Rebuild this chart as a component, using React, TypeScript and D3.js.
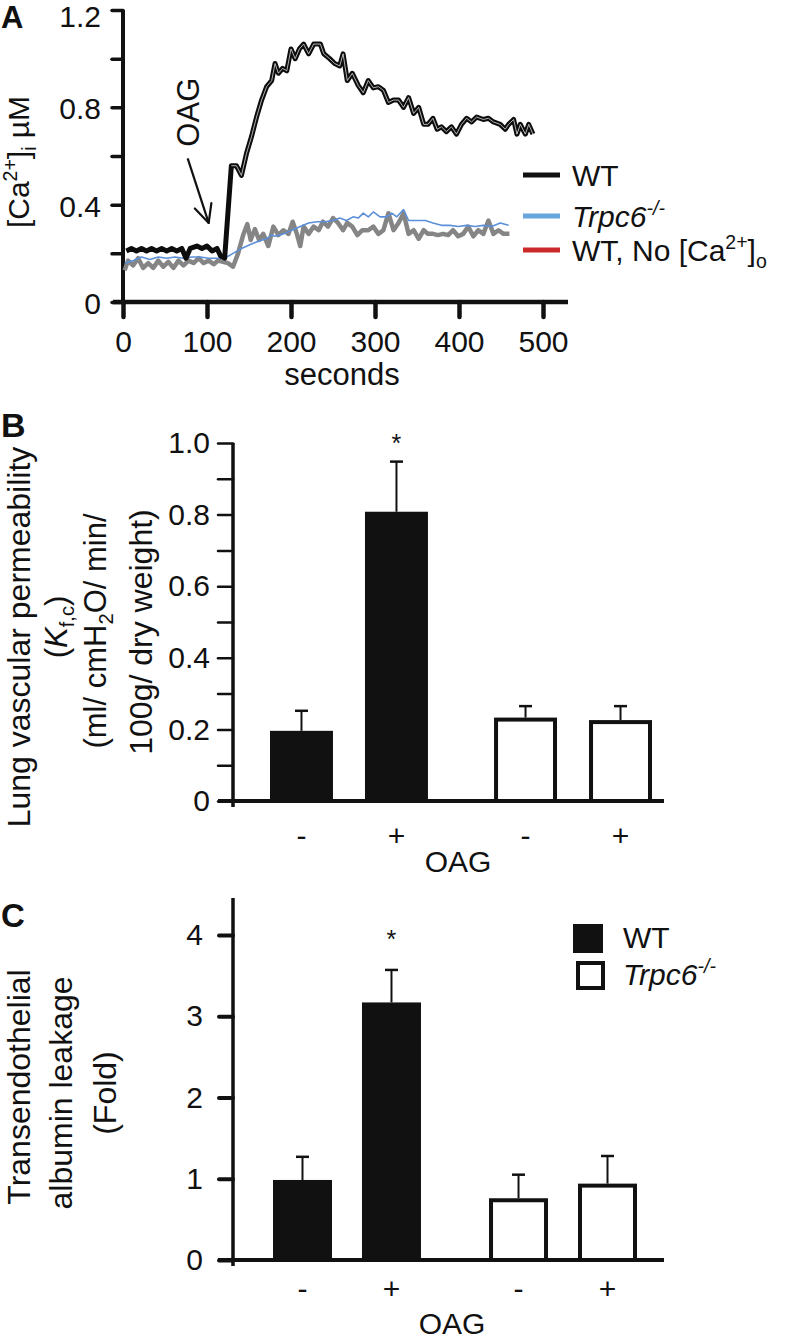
import React, { useEffect, useRef } from "react";
import * as d3 from "d3";

const FONT = "'Liberation Sans', Arial, Helvetica, sans-serif";

// ---- Panel A: [Ca2+]i traces as [seconds, µM]
const wtTrace = [
  [4, 0.21], [10, 0.22], [16, 0.21], [22, 0.22], [28, 0.21], [34, 0.22], [40, 0.21], [46, 0.22],
  [52, 0.21], [58, 0.22], [64, 0.21], [70, 0.22], [75, 0.18], [80, 0.22], [88, 0.23], [94, 0.22],
  [100, 0.23], [106, 0.21], [112, 0.22], [116, 0.19], [121, 0.18], [129, 0.56], [135, 0.56],
  [141, 0.52], [147, 0.61], [153, 0.68], [159, 0.76], [165, 0.83], [171, 0.885], [177, 0.91],
  [181, 0.98], [185, 0.94], [190, 0.96], [195, 0.95], [200, 1.04], [205, 1.0], [210, 1.04],
  [215, 1.06], [221, 1.02], [227, 1.06], [235, 1.06], [239, 1.02], [246, 1.0], [252, 0.98],
  [258, 0.97], [262, 1.02], [267, 0.91], [273, 0.94], [280, 0.89], [286, 0.86], [292, 0.91],
  [298, 0.88], [304, 0.885], [310, 0.87], [316, 0.82], [322, 0.83], [328, 0.83], [334, 0.8],
  [340, 0.84], [346, 0.775], [352, 0.8], [358, 0.73], [363, 0.73], [369, 0.755], [374, 0.71],
  [379, 0.72], [385, 0.7], [391, 0.72], [397, 0.69], [403, 0.73], [409, 0.755], [415, 0.74],
  [421, 0.76], [429, 0.75], [435, 0.755], [441, 0.74], [449, 0.73], [455, 0.71], [459, 0.73],
  [465, 0.75], [469, 0.69], [473, 0.73], [479, 0.69], [483, 0.73], [488, 0.69],
];

const grayTrace = [
  [2, 0.13], [6, 0.17], [12, 0.15], [18, 0.18], [24, 0.14], [30, 0.16], [36, 0.14], [42, 0.17],
  [48, 0.145], [54, 0.165], [60, 0.14], [66, 0.17], [72, 0.15], [78, 0.17], [84, 0.16], [90, 0.18],
  [96, 0.16], [102, 0.17], [108, 0.155], [113, 0.17], [119, 0.165], [125, 0.16], [131, 0.145],
  [137, 0.2], [143, 0.275], [148, 0.32], [152, 0.255], [157, 0.3], [162, 0.255], [167, 0.28],
  [173, 0.23], [179, 0.31], [185, 0.275], [191, 0.295], [197, 0.28], [202, 0.33], [207, 0.28],
  [211, 0.23], [215, 0.31], [221, 0.28], [227, 0.31], [233, 0.295], [238, 0.33], [244, 0.31],
  [250, 0.345], [256, 0.325], [262, 0.295], [267, 0.325], [273, 0.31], [279, 0.275], [285, 0.295],
  [292, 0.295], [298, 0.31], [304, 0.28], [310, 0.295], [316, 0.365], [322, 0.295], [328, 0.325],
  [334, 0.365], [340, 0.28], [346, 0.295], [352, 0.26], [358, 0.295], [363, 0.28], [369, 0.28],
  [375, 0.275], [381, 0.28], [387, 0.275], [393, 0.295], [399, 0.27], [405, 0.28], [411, 0.31],
  [417, 0.27], [423, 0.295], [429, 0.28], [435, 0.335], [441, 0.28], [447, 0.295], [453, 0.28],
  [460, 0.28],
];

const trpc6Trace = [
  [2, 0.16], [12, 0.17], [22, 0.185], [32, 0.175], [42, 0.185], [52, 0.18], [62, 0.185],
  [72, 0.18], [82, 0.185], [92, 0.185], [102, 0.18], [112, 0.18], [121, 0.18], [131, 0.2],
  [141, 0.22], [151, 0.235], [161, 0.25], [171, 0.26], [177, 0.275], [181, 0.27], [191, 0.28],
  [201, 0.295], [211, 0.31], [221, 0.325], [231, 0.33], [240, 0.33], [250, 0.335], [258, 0.345],
  [266, 0.335], [274, 0.35], [280, 0.345], [286, 0.365], [292, 0.35], [298, 0.37], [306, 0.35],
  [314, 0.35], [320, 0.365], [326, 0.35], [334, 0.38], [340, 0.335], [350, 0.335], [360, 0.335],
  [369, 0.325], [379, 0.315], [389, 0.315], [399, 0.31], [409, 0.315], [419, 0.31], [429, 0.315],
  [439, 0.31], [449, 0.325], [459, 0.315],
];

const timeTicks = [0, 100, 200, 300, 400, 500];
const caTicks = [0, 0.2, 0.4, 0.6, 0.8, 1.0, 1.2];
const caLabelled = [0, 0.4, 0.8, 1.2];

// OAG arrow (seconds, µM)
const oagArrowFrom = [77, 0.59];
const oagArrowTo = [102, 0.325];
const oagTextAt = [77, 0.78];

// ---- Panel B: lung vascular permeability (Kf,c)
const genotypes = ["WT", "Trpc6"];
const oagLevels = ["-", "+"];
const kfcMean = [0.196, 0.808, 0.233, 0.226];
const kfcSem = [0.056, 0.14, 0.032, 0.039];
const kfcTicks = [0, 0.1, 0.2, 0.3, 0.4, 0.5, 0.6, 0.7, 0.8, 0.9, 1.0];

// ---- Panel C: transendothelial albumin leakage (fold)
const leakMean = [0.985, 3.17, 0.76, 0.94];
const leakSem = [0.285, 0.4, 0.29, 0.34];
const leakTicks = [0, 1, 2, 3, 4];

type Part = { t: string; sup?: boolean; sub?: boolean; italic?: boolean };

function rich(sel: any, parts: Part[], size: number) {
  let shift = 0;
  parts.forEach((p) => {
    const ts = sel.append("tspan").text(p.t);
    let target = 0;
    if (p.sup) target = -size * 0.4;
    if (p.sub) target = size * 0.22;
    if (target - shift !== 0) ts.attr("dy", target - shift);
    shift = target;
    if (p.sup || p.sub) ts.attr("font-size", size * 0.65);
    if (p.italic) ts.attr("font-style", "italic");
  });
}

const App = () => {
  const svgRef = useRef<SVGSVGElement>(null);

  useEffect(() => {
    const width = 788;
    const height = 1339;
    const svg = d3.select(svgRef.current);
    svg.selectAll("*").remove();
    svg.attr("width", width).attr("height", height).style("font-family", FONT);

    // ================= Panel A =================
    const xA = d3.scaleLinear().domain([0, 500]).range([123, 543]);
    const yA = d3.scaleLinear().domain([0, 1.2]).range([302, 10]);

    const gA = svg.append("g");

    // axes lines
    gA.append("line").attr("x1", 113).attr("x2", 568).attr("y1", yA(0)).attr("y2", yA(0))
      .attr("stroke", "#111").attr("stroke-width", 4.5);
    gA.append("line").attr("x1", xA(0)).attr("x2", xA(0)).attr("y1", yA(1.2)).attr("y2", yA(0))
      .attr("stroke", "#111").attr("stroke-width", 4);

    const yAxisA = gA.append("g").attr("transform", `translate(${xA(0)},0)`)
      .call(d3.axisLeft(yA).tickValues(caTicks).tickSize(11).tickSizeOuter(0).tickPadding(11)
        .tickFormat((d: any) => (caLabelled.some((v) => Math.abs(v - d) < 1e-9) ? (d === 0 ? "0" : d3.format(".1f")(d)) : "")));
    yAxisA.select(".domain").remove();
    yAxisA.selectAll("line").attr("stroke", "#111").attr("stroke-width", 3.5).attr("stroke-linecap", "round");
    yAxisA.selectAll("text").attr("font-size", 30).attr("fill", "#111").attr("font-family", FONT)
      .attr("dy", (d: any) => (d === 1.2 ? "0.55em" : "0.38em"));

    const xAxisA = gA.append("g").attr("transform", `translate(0,${yA(0)})`)
      .call(d3.axisBottom(xA).tickValues(timeTicks).tickSize(15).tickSizeOuter(0).tickPadding(14));
    xAxisA.select(".domain").remove();
    xAxisA.selectAll("line").attr("stroke", "#111").attr("stroke-width", 4.5).attr("stroke-linecap", "round");
    xAxisA.selectAll("text").attr("font-size", 30).attr("fill", "#111").attr("font-family", FONT);

    gA.append("text").attr("x", 342).attr("y", 385).attr("text-anchor", "middle")
      .attr("font-size", 31).attr("fill", "#111").text("seconds");

    const yLabA = gA.append("text").attr("transform", "translate(29,162) rotate(-90)")
      .attr("text-anchor", "middle").attr("font-size", 30).attr("fill", "#111");
    rich(yLabA, [{ t: "[Ca" }, { t: "2+", sup: true }, { t: "]" }, { t: "i", sub: true }, { t: " µM" }], 30);

    const line = d3.line<number[]>().x((d) => xA(d[0])).y((d) => yA(d[1]));

    gA.append("path").datum(grayTrace).attr("d", line).attr("fill", "none")
      .attr("stroke", "#858585").attr("stroke-width", 4.5).attr("stroke-linejoin", "round");
    gA.append("path").datum(trpc6Trace).attr("d", line).attr("fill", "none")
      .attr("stroke", "#5b8fd9").attr("stroke-width", 1.6).attr("stroke-linejoin", "round");
    gA.append("path").datum(wtTrace).attr("d", line).attr("fill", "none")
      .attr("stroke", "#0d0d0d").attr("stroke-width", 5).attr("stroke-linejoin", "round");
    gA.append("path").datum(wtTrace.filter((d) => d[0] >= 129)).attr("d", line).attr("fill", "none")
      .attr("stroke", "#fff").attr("stroke-width", 0.8).attr("stroke-opacity", 0.85).attr("stroke-linejoin", "round");

    // OAG annotation
    const ax1 = xA(oagArrowFrom[0]), ay1 = yA(oagArrowFrom[1]);
    const ax2 = xA(oagArrowTo[0]), ay2 = yA(oagArrowTo[1]);
    gA.append("line").attr("x1", ax1).attr("y1", ay1).attr("x2", ax2).attr("y2", ay2)
      .attr("stroke", "#111").attr("stroke-width", 2.2);
    const ang = Math.atan2(ay2 - ay1, ax2 - ax1);
    [0.45, -0.45].forEach((da) => {
      gA.append("line").attr("x1", ax2).attr("y1", ay2)
        .attr("x2", ax2 - 20 * Math.cos(ang + da)).attr("y2", ay2 - 20 * Math.sin(ang + da))
        .attr("stroke", "#111").attr("stroke-width", 2.2).attr("stroke-linecap", "round");
    });
    gA.append("text").attr("transform", `translate(${xA(oagTextAt[0]) + 11},${yA(oagTextAt[1])}) rotate(-90)`)
      .attr("text-anchor", "middle").attr("font-size", 31).attr("fill", "#111").text("OAG");

    // legend A
    const legA = [
      { color: "#111", y: 175, parts: [{ t: "WT" }] as Part[] },
      { color: "#66a6dd", y: 216, parts: [{ t: "Trpc6", italic: true }, { t: "-/-", sup: true, italic: true }] as Part[] },
      { color: "#cc2a2a", y: 250, parts: [{ t: "WT, No [Ca" }, { t: "2+", sup: true }, { t: "]" }, { t: "o", sub: true }] as Part[] },
    ];
    legA.forEach((l) => {
      gA.append("line").attr("x1", 523).attr("x2", 560).attr("y1", l.y).attr("y2", l.y)
        .attr("stroke", l.color).attr("stroke-width", 5);
      const t = gA.append("text").attr("x", 572).attr("y", l.y + 11).attr("font-size", 30).attr("fill", "#111");
      rich(t, l.parts, 30);
    });

    gA.append("text").attr("x", 1).attr("y", 28).attr("font-size", 31).attr("font-weight", "bold")
      .attr("fill", "#111").text("A");

    // ================= Bar panels =================
    const drawBars = (opts: any) => {
      const { g, y, means, sems, range, outerPad, innerPad, base, axisTop, ticks, tickFmt,
        tickSize, tickPad, tickWidth, starY, labelY, oagY, xAxisEnd } = opts;
      const outer = d3.scaleBand().domain(genotypes).range(range).paddingInner(outerPad).paddingOuter(0);
      const inner = d3.scaleBand().domain(oagLevels).range([0, outer.bandwidth()]).paddingInner(innerPad).paddingOuter(0);
      const rows = genotypes.flatMap((gt, gi) =>
        oagLevels.map((o, oi) => ({ gt, o, mean: means[gi * 2 + oi], sem: sems[gi * 2 + oi] })));

      // y axis
      g.append("line").attr("x1", 233).attr("x2", 233).attr("y1", axisTop).attr("y2", base + 6)
        .attr("stroke", "#111").attr("stroke-width", 3.5);
      const ax = g.append("g").attr("transform", "translate(233,0)")
        .call(d3.axisLeft(y).tickValues(ticks).tickSize(tickSize).tickSizeOuter(0).tickPadding(tickPad).tickFormat(tickFmt));
      ax.select(".domain").remove();
      ax.selectAll("line").attr("stroke", "#111").attr("stroke-width", tickWidth).attr("stroke-linecap", "round");
      ax.selectAll("text").attr("font-size", 30).attr("fill", "#111").attr("font-family", FONT);

      // bars
      rows.forEach((r) => {
        const x0 = (outer(r.gt) as number) + (inner(r.o) as number);
        const bw = inner.bandwidth();
        const cx = x0 + bw / 2;
        const top = y(r.mean);
        const errTop = y(r.mean + r.sem);
        g.append("line").attr("x1", cx).attr("x2", cx).attr("y1", top).attr("y2", errTop)
          .attr("stroke", "#111").attr("stroke-width", 2);
        g.append("line").attr("x1", cx - 6.5).attr("x2", cx + 6.5).attr("y1", errTop).attr("y2", errTop)
          .attr("stroke", "#111").attr("stroke-width", 2.5);
        if (r.gt === "WT") {
          g.append("rect").attr("x", x0).attr("y", top).attr("width", bw).attr("height", base - top)
            .attr("fill", "#111");
        } else {
          g.append("rect").attr("x", x0 + 2).attr("y", top + 2).attr("width", bw - 4).attr("height", base - top - 2)
            .attr("fill", "#fff").attr("stroke", "#111").attr("stroke-width", 4);
        }
        g.append("text").attr("x", cx).attr("y", labelY).attr("text-anchor", "middle")
          .attr("font-size", 30).attr("fill", "#111").text(r.o);
        if (r.gt === "WT" && r.o === "+") {
          g.append("text").attr("x", cx).attr("y", starY).attr("text-anchor", "middle")
            .attr("font-size", 25).attr("fill", "#111").text("*");
        }
      });

      // x axis
      g.append("line").attr("x1", 218).attr("x2", xAxisEnd).attr("y1", base).attr("y2", base)
        .attr("stroke", "#111").attr("stroke-width", 4);

      g.append("text").attr("x", (range[0] + range[1]) / 2 - 3).attr("y", oagY).attr("text-anchor", "middle")
        .attr("font-size", 30).attr("fill", "#111").text("OAG");
    };

    // ---- Panel B
    const gB = svg.append("g");
    const yB = d3.scaleLinear().domain([0, 1]).range([801, 443]);
    drawBars({
      g: gB, y: yB, means: kfcMean, sems: kfcSem, range: [270, 652], outerPad: 0.295, innerPad: 0.337,
      base: 801, axisTop: 443, ticks: kfcTicks,
      tickFmt: (d: number) => (Math.round(d * 10) % 2 === 0 ? (d === 0 ? "0" : d3.format(".1f")(d)) : ""),
      tickSize: 15, tickPad: 8, tickWidth: 2.5, starY: 452, labelY: 846, oagY: 872, xAxisEnd: 664,
    });

    const yLabB = gB.append("g").attr("fill", "#111");
    yLabB.append("text").attr("transform", "translate(30,637) rotate(-90)").attr("text-anchor", "middle")
      .attr("font-size", 32).text("Lung vascular permeability");
    const l2 = yLabB.append("text").attr("transform", "translate(67,627) rotate(-90)").attr("text-anchor", "middle")
      .attr("font-size", 31);
    rich(l2, [{ t: "(" }, { t: "K", italic: true }, { t: "f,c", sub: true }, { t: ")" }], 31);
    const l3 = yLabB.append("text").attr("transform", "translate(106,631) rotate(-90)").attr("text-anchor", "middle")
      .attr("font-size", 31);
    rich(l3, [{ t: "(ml/ cmH" }, { t: "2", sub: true }, { t: "O/ min/" }], 31);
    yLabB.append("text").attr("transform", "translate(152,632) rotate(-90)").attr("text-anchor", "middle")
      .attr("font-size", 32).text("100g/ dry weight)");

    gB.append("text").attr("x", 1).attr("y", 437).attr("font-size", 34).attr("font-weight", "bold")
      .attr("fill", "#111").text("B");

    // ---- Panel C
    const gC = svg.append("g");
    const yC = d3.scaleLinear().domain([0, 4]).range([1260, 935]);
    drawBars({
      g: gC, y: yC, means: leakMean, sems: leakSem, range: [273, 637], outerPad: 0.315, innerPad: 0.337,
      base: 1260, axisTop: 898, ticks: leakTicks, tickFmt: (d: number) => String(d),
      tickSize: 14, tickPad: 16, tickWidth: 4, starY: 948, labelY: 1299, oagY: 1334, xAxisEnd: 664,
    });

    const yLabC = gC.append("g").attr("fill", "#111").attr("font-size", 32).attr("text-anchor", "middle");
    yLabC.append("text").attr("transform", "translate(30,1087) rotate(-90)").text("Transendothelial");
    yLabC.append("text").attr("transform", "translate(72,1093) rotate(-90)").text("albumin leakage");
    yLabC.append("text").attr("transform", "translate(116,1093) rotate(-90)").text("(Fold)");

    gC.append("text").attr("x", 1).attr("y", 927).attr("font-size", 33).attr("font-weight", "bold")
      .attr("fill", "#111").text("C");

    // legend C
    gC.append("rect").attr("x", 573).attr("y", 924).attr("width", 30).attr("height", 29).attr("fill", "#111");
    gC.append("text").attr("x", 623).attr("y", 948).attr("font-size", 30).attr("fill", "#111").text("WT");
    gC.append("rect").attr("x", 578).attr("y", 963).attr("width", 25).attr("height", 25)
      .attr("fill", "#fff").attr("stroke", "#111").attr("stroke-width", 4);
    const lc = gC.append("text").attr("x", 623).attr("y", 985).attr("font-size", 30).attr("fill", "#111");
    rich(lc, [{ t: "Trpc6", italic: true }, { t: "-/-", sup: true, italic: true }], 30);
  }, []);

  return (
    <svg ref={svgRef} style={{ position: "absolute", left: 0, top: 0, background: "#fff" }}></svg>
  );
};

export default App;
